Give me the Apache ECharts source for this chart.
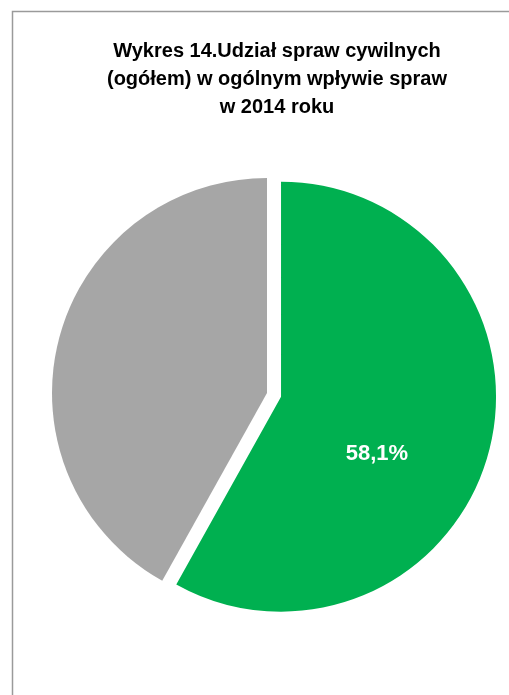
<!DOCTYPE html>
<html>
<head>
<meta charset="utf-8">
<script src="https://cdn.jsdelivr.net/npm/echarts@6/dist/echarts.min.js"></script>
<style>
html,body{margin:0;padding:0;background:#fff;}
#c{width:509px;height:695px;}
</style>
</head>
<body>
<div id="c"></div>
<script>
const titleLines = ['Wykres 14.Udział spraw cywilnych', '(ogółem) w ogólnym wpływie spraw', 'w 2014 roku'];
const categories = ['Sprawy cywilne (ogółem)', 'Pozostałe sprawy'];
const shares = [58.1, 41.9];
const sliceColors = ['#00B050', '#A6A6A6'];
const labelTexts = ['58,1%', ''];

const chart = echarts.init(document.getElementById('c'), null, {renderer: 'canvas'});
const FONT = '"Liberation Sans Narrow", "Arial Narrow", "Liberation Sans", Arial, sans-serif';

chart.setOption({
  animation: false,
  title: {
    text: titleLines.join('\n'),
    left: 272,
    top: 32,
    textAlign: 'center',
    textStyle: {
      fontFamily: FONT,
      fontWeight: 'bold',
      fontSize: 20,
      lineHeight: 28,
      color: '#000'
    }
  },
  graphic: [{
    type: 'polyline',
    shape: {points: [[12.5, 695], [12.5, 11.5], [509, 11.5]]},
    style: {stroke: '#9a9a9a', lineWidth: 1.5, fill: null},
    silent: true
  }],
  series: [{
    type: 'pie',
    center: [267, 393],
    radius: [0, 215],
    startAngle: 90,
    clockwise: true,
    selectedMode: 'single',
    selectedOffset: 14.5,
    emphasis: {disabled: true},
    labelLine: {show: false},
    label: {
      show: true,
      position: 'inside',
      formatter: p => labelTexts[p.dataIndex] ? '\n\n' + labelTexts[p.dataIndex] : '',
      color: '#fff',
      fontFamily: FONT,
      fontWeight: 'bold',
      fontSize: 22,
      lineHeight: 29,
      padding: [0, 22, 0, 0]
    },
    data: categories.map((name, i) => ({
      name: name,
      value: shares[i],
      selected: i === 0,
      itemStyle: {color: sliceColors[i]}
    }))
  }]
});
</script>
</body>
</html>
